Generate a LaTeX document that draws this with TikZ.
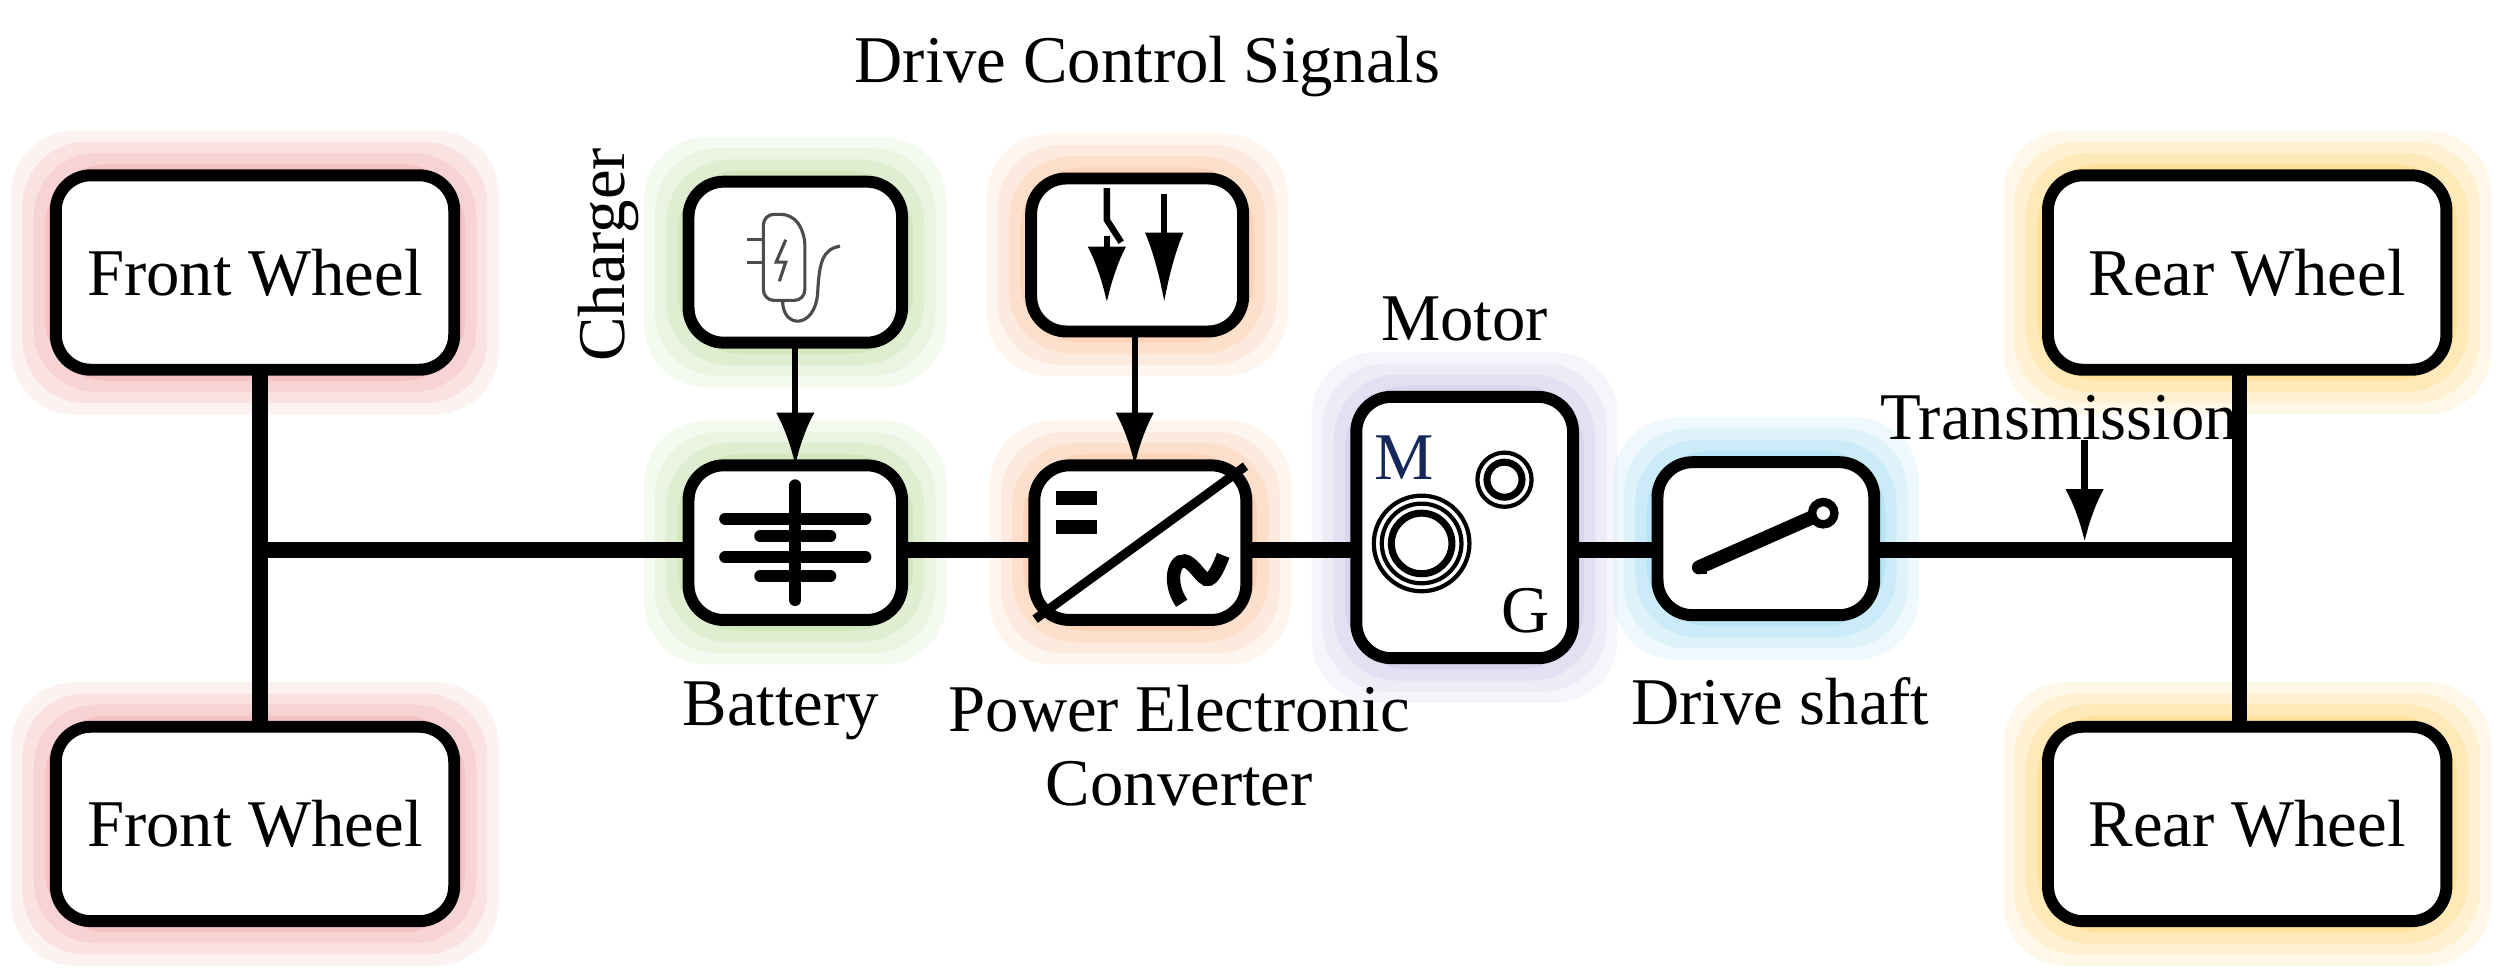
\documentclass[tikz,border=0pt]{standalone}
\usepackage{fontspec}
\setmainfont{Liberation Serif}
\usetikzlibrary{arrows.meta}
\definecolor{gred}{RGB}{240,165,165}
\definecolor{ggreen}{RGB}{190,220,160}
\definecolor{gorange}{RGB}{250,190,150}
\definecolor{gpurple}{RGB}{200,190,228}
\definecolor{gblue}{RGB}{150,215,240}
\definecolor{gyellow}{RGB}{255,210,110}
\definecolor{mblue}{RGB}{20,40,90}
\tikzset{
 box/.style={draw,line width=3.4pt,rounded corners=10pt,fill=white},
 lbl/.style={font=\fontsize{19}{21}\selectfont},
 conn/.style={line width=4.4pt},
 arr/.style={line width=1.8pt,-{Latex[length=15pt,width=11pt]}},
}
\newcommand{\glow}[5]{% color x1 y1 x2 y2
 \foreach \e/\o in {28/0.15,21/0.2,14/0.25,7/0.35}{
  \fill[#1,opacity=\o,rounded corners=18pt] (#2-\e,#3-\e) rectangle (#4+\e,#5+\e);}
}
\begin{document}
\begin{tikzpicture}[x=0.015944cm,y=-0.015944cm]
\useasboundingbox (0,0) rectangle (1568,609);
% glows
\glow{gred}{35}{110}{285}{232}
\glow{gred}{35}{456}{285}{578}
\glow{ggreen}{432}{114}{566}{215}
\glow{ggreen}{432}{292}{566}{389}
\glow{gorange}{647}{112}{780}{208}
\glow{gorange}{649}{292}{782}{389}
\glow{gpurple}{851}{249}{987}{413}
\glow{gblue}{1040}{290}{1176}{386}
\glow{gyellow}{1285}{110}{1535}{232}
\glow{gyellow}{1285}{456}{1535}{578}
% coordinates
\coordinate (fj) at (163,345);
\coordinate (ft) at (163,232);
\coordinate (fb) at (163,456);
\coordinate (rt) at (1405,232);
\coordinate (rb) at (1405,456);
\coordinate (tr) at (1308,340);
\coordinate (trs) at (1308,276);
% connectors (under boxes)
\draw[conn] (ft) -- (fb);
\draw[conn] (rt) -- (rb);
\draw[conn] (fj) -- (1405,345);
% boxes
\draw[box] (35,110) rectangle (285,232) node[midway,lbl] (fw1) {Front Wheel};
\draw[box] (35,456) rectangle (285,578) node[midway,lbl] (fw2) {Front Wheel};
\draw[box] (1285,110) rectangle (1535,232) node[midway,lbl] (rw1) {Rear Wheel};
\draw[box] (1285,456) rectangle (1535,578) node[midway,lbl] (rw2) {Rear Wheel};
\draw[box] (432,114) rectangle (566,215) coordinate[pos=.5] (chg);
\draw[box] (432,292) rectangle (566,389) coordinate[pos=.5] (bat);
\draw[box] (647,112) rectangle (780,208) coordinate[pos=.5] (sig);
\draw[box] (649,292) rectangle (782,389) coordinate[pos=.5] (cnv);
\draw[box] (851,249) rectangle (987,413) coordinate[pos=.5] (mot);
\draw[box] (1040,290) rectangle (1176,386) coordinate[pos=.5] (dsh);
% arrows
\draw[arr] (499,215) -- (499,292);
\draw[arr] (712,208) -- (712,292);
\draw[arr] (trs) -- (tr);
% charger icon
\begin{scope}[shift={(chg)},draw=black!70,line width=0.9pt]
 \draw[rounded corners=3pt] (-20,-30) -- (-2,-30) -- (6,-18) -- (6,24) -- (-20,24) -- cycle;
 \draw (-20,-14) -- (-30,-14) (-20,0) -- (-30,0);
 \draw (-6,-14) -- (-12,0) -- (-6,0) -- (-10,12);
 \draw (-8,24) .. controls (-8,42) and (12,42) .. (14,20) .. controls (15,0) and (17,-8) .. (28,-10);
\end{scope}
% battery icon
\begin{scope}[shift={(bat)},line width=3.4pt,line cap=round]
 \draw (0,-36) -- (0,36);
 \draw (-44,-15) -- (44,-15);
 \draw (-22,-4) -- (22,-4);
 \draw (-44,9) -- (44,9);
 \draw (-22,21) -- (22,21);
\end{scope}
% signal icon
\begin{scope}[shift={(sig)},line width=1.8pt]
 \draw (-19,-42) -- (-19,-22) -- (-10,-8);
 \draw[-{Latex[length=16pt,width=11pt]}] (-19,-12) -- (-19,30);
 \draw[-{Latex[length=20pt,width=11pt]}] (17,-38) -- (17,30);
\end{scope}
% converter icon
\begin{scope}[shift={(cnv)},line width=2.6pt]
 \draw (-66,48) -- (66,-48);
 \draw[line width=4pt] (-53,-28) -- (-27,-28) (-53,-10) -- (-27,-10);
 \draw[line width=3.8pt] (26,38) .. controls (16,24) and (22,6) .. (31,13) .. controls (40,20) and (42,34) .. (52,8);
\end{scope}
% motor icon
\begin{scope}[shift={(mot)}]
 \node[text=mblue,font=\fontsize{19}{21}\selectfont] at (-38,-44) {M};
 \node[font=\fontsize{19}{21}\selectfont] at (38,52) {G};
 \draw[line width=1.2pt] (-27,10) circle (30);
 \draw[line width=1.2pt] (-27,10) circle (25);
 \draw[line width=2pt] (-27,10) circle (19);
 \draw[line width=1.2pt] (25,-30) circle (17);
 \draw[line width=2pt] (25,-30) circle (11);
\end{scope}
% drive shaft icon
\begin{scope}[shift={(dsh)}]
 \draw[line width=4pt,line cap=round] (-42,18) -- (35,-16);
 \draw[line width=2.4pt,fill=white] (36,-16) circle (7);
 \draw[line width=3pt] (-40,14) -- (-40,22);
\end{scope}
% labels
\node[lbl] (dcs) at (720,42) {Drive Control Signals};
\node[lbl,rotate=90] (chl) at (382,160) {Charger};
\node[lbl] (batl) at (490,446) {Battery};
\node[lbl,align=center] (cnvl) at (740,468) {Power Electronic\\Converter};
\node[lbl] (motl) at (919,200) {Motor};
\node[lbl] (dshl) at (1117,440) {Drive shaft};
\node[lbl] (trl) at (1292,262) {Transmission};
\end{tikzpicture}
\end{document}
